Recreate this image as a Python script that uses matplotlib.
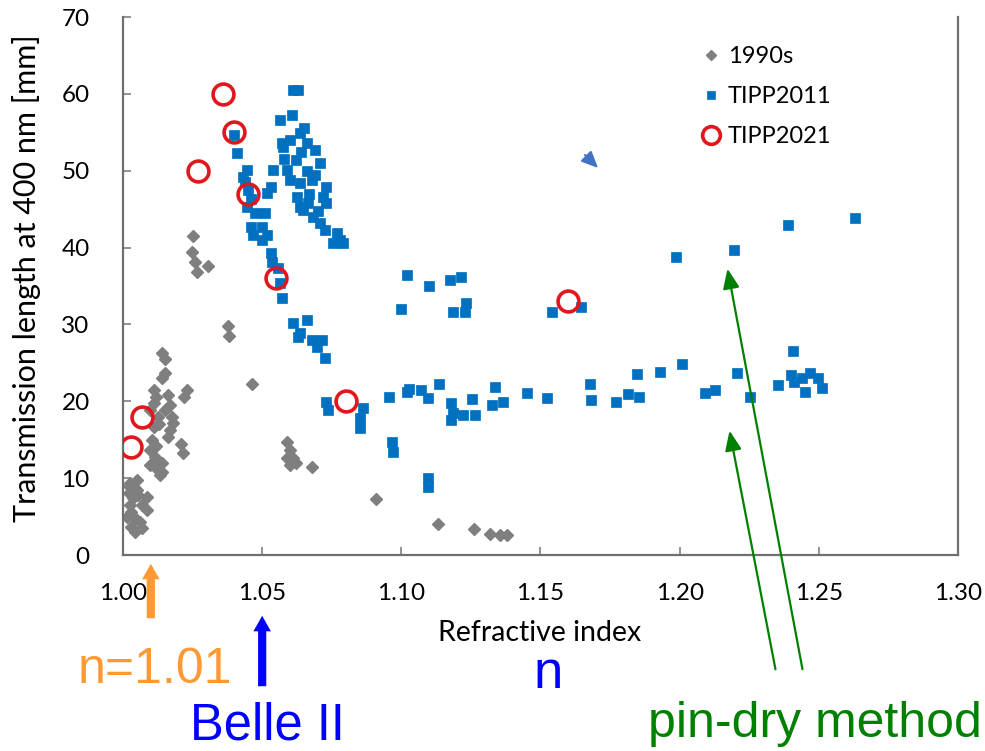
import matplotlib
matplotlib.use("Agg")
import matplotlib.pyplot as plt

# ---------------- data ----------------
gray_x = [1.005, 1.0025, 1.005, 1.002, 1.0036, 1.0086, 1.0025, 1.007, 1.003, 1.0086,
          1.0043, 1.006, 1.003, 1.0068, 1.0043, 1.002, 1.004, 1.0015, 1.0055,
          1.014, 1.015, 1.015, 1.014, 1.011, 1.012, 1.016, 1.023, 1.022, 1.017,
          1.015, 1.0176, 1.0097, 1.0126, 1.011, 1.017, 1.0104, 1.016, 1.021, 1.0216,
          1.0097, 1.0115, 1.0097, 1.012, 1.014, 1.0133, 1.011, 1.013, 1.012, 1.014, 1.018,
          1.025, 1.0248, 1.026, 1.0266, 1.0305, 1.0377, 1.038, 1.0464, 1.059, 1.060,
          1.059, 1.061, 1.060, 1.062, 1.068, 1.091, 1.113, 1.126, 1.132, 1.1355, 1.138]
gray_y = [9.8, 9.4, 8.5, 8.1, 7.4, 7.5, 6.5, 6.5, 5.6, 5.9,
          4.8, 4.3, 3.6, 3.5, 3.0, 9.0, 8.8, 5.0, 7.8,
          26.3, 25.5, 23.7, 23.0, 21.5, 20.6, 20.8, 21.5, 20.6, 19.5,
          18.9, 18.0, 18.9, 18.0, 16.7, 16.3, 15.0, 15.4, 14.5, 13.3,
          13.7, 12.8, 11.7, 11.3, 10.8, 10.4, 19.8, 17.0, 14.2, 12.0, 17.2,
          41.5, 39.4, 38.1, 36.8, 37.6, 29.8, 28.5, 22.2, 14.7, 13.7,
          12.6, 12.6, 11.7, 12.0, 11.4, 7.3, 4.0, 3.4, 2.7, 2.6, 2.6]

blue_x = [1.040, 1.041, 1.0446, 1.043, 1.045, 1.0446, 1.0474, 1.051, 1.046, 1.050,
          1.0467, 1.050, 1.0517, 1.053, 1.0535, 1.0557, 1.0564, 1.057, 1.054, 1.053,
          1.0517, 1.044, 1.046,
          1.061, 1.063, 1.0564, 1.0607, 1.0575, 1.0636, 1.066, 1.069, 1.059, 1.062,
          1.0708, 1.060, 1.0636, 1.068, 1.073, 1.0625, 1.0665, 1.072, 1.073, 1.0683,
          1.0708, 1.0726, 1.077, 1.078, 1.0755, 1.079, 1.0636, 1.0647, 1.057, 1.060,
          1.065, 1.066, 1.069, 1.067, 1.070, 1.064, 1.058,
          1.061, 1.0636, 1.066, 1.068, 1.0715, 1.0726, 1.063, 1.0697,
          1.073, 1.0737, 1.0862, 1.085, 1.085, 1.0956, 1.102, 1.1028, 1.107, 1.1096,
          1.1136, 1.118, 1.1187, 1.118, 1.122, 1.1254, 1.1265, 1.1337, 1.1326, 1.1365,
          1.145, 1.1523, 1.0967, 1.097, 1.1096, 1.1096,
          1.102, 1.110, 1.1175, 1.1215, 1.100, 1.1186, 1.1232, 1.123, 1.154, 1.1646,
          1.1987, 1.2195, 1.239, 1.263, 1.1678, 1.168, 1.177, 1.1815, 1.1855, 1.1847,
          1.193, 1.201, 1.209, 1.2127, 1.2206, 1.2253, 1.2407, 1.2354, 1.240, 1.241,
          1.245, 1.247, 1.2497, 1.251, 1.244]
blue_y = [54.6, 52.3, 50.1, 49.2, 47.5, 45.3, 44.5, 44.5, 42.7, 42.7,
          41.6, 41.0, 41.6, 39.3, 38.1, 37.3, 35.4, 33.5, 50.1, 47.9,
          47.1, 48.5, 46.3,
          60.5, 60.5, 56.6, 57.2, 53.1, 54.9, 53.6, 52.7, 50.1, 51.4,
          51.0, 48.8, 48.4, 48.8, 47.9, 46.6, 45.8, 46.6, 45.8, 44.0,
          43.2, 42.3, 41.9, 41.0, 40.6, 40.6, 45.3, 44.9, 53.6, 54.0,
          55.5, 50.0, 49.5, 47.0, 44.8, 52.5, 51.5,
          30.2, 28.9, 30.6, 28.0, 28.0, 25.6, 28.4, 27.0,
          19.9, 18.9, 19.1, 17.8, 16.5, 20.5, 21.2, 21.6, 21.5, 20.4,
          22.2, 19.8, 18.5, 17.6, 18.2, 20.3, 18.2, 21.8, 19.5, 19.9,
          21.1, 20.4, 14.7, 13.4, 10.0, 8.8,
          36.4, 35.0, 35.8, 36.2, 32.0, 31.6, 32.8, 31.6, 31.6, 32.3,
          38.8, 39.7, 43.0, 43.8, 22.2, 20.2, 19.9, 21.0, 20.5, 23.5,
          23.8, 24.8, 21.1, 21.5, 23.7, 20.5, 26.5, 22.1, 23.4, 22.5,
          21.2, 23.7, 23.0, 21.7, 23.0]

red_x = [1.003, 1.007, 1.027, 1.036, 1.040, 1.045, 1.055, 1.080, 1.160]
red_y = [14.0, 18.0, 50.0, 60.0, 55.0, 47.0, 36.0, 20.0, 33.0]

series_labels = ["1990s", "TIPP2011", "TIPP2021"]
x_ticks = [1.00, 1.05, 1.10, 1.15, 1.20, 1.25, 1.30]
y_ticks = [0, 10, 20, 30, 40, 50, 60, 70]

# ---------------- figure ----------------
W, H = 985, 751
fig = plt.figure(figsize=(W / 100, H / 100), dpi=100)
ax = fig.add_axes([123 / W, 1 - 555 / H, (958 - 123) / W, (555 - 17) / H])

axis_font = "Lato"
ax.plot(gray_x, gray_y, linestyle="none", marker="D", ms=6.0, color="#7f7f7f",
        mec="#7f7f7f", label=series_labels[0], zorder=2)
ax.plot(blue_x, blue_y, linestyle="none", marker="s", ms=7.6, color="#0070C0",
        mec="#0070C0", mew=0.5, label=series_labels[1], zorder=3)
ax.plot(red_x, red_y, linestyle="none", marker="o", ms=15, mfc="none",
        mec="#E3161E", mew=2.6, label=series_labels[2], zorder=4)

ax.set_xlim(1.00, 1.30)
ax.set_ylim(0, 70)
ax.set_xticks(x_ticks)
ax.set_xticklabels([f"{v:.2f}" for v in x_ticks], fontfamily=axis_font, fontsize=17.5)
ax.set_yticks(y_ticks)
ax.set_yticklabels([str(v) for v in y_ticks], fontfamily=axis_font, fontsize=17.5)
ax.tick_params(direction="in", length=6, width=1.2, color="#808080")
ax.tick_params(axis="x", pad=20)
ax.tick_params(axis="y", pad=24)
for side in ["left", "bottom", "right"]:
    ax.spines[side].set_color("#6f6f6f")
    ax.spines[side].set_linewidth(1.6)
ax.spines["top"].set_visible(False)

ax.set_xlabel("Refractive index", fontfamily=axis_font, fontsize=20.5)
ax.set_ylabel("Transmission length at 400 nm [mm]", fontfamily=axis_font,
              fontsize=22)
ax.xaxis.set_label_coords((540 - 123) / (958 - 123), -(633 - 555) / (555 - 17))
ax.xaxis.label.set_va("center")
ax.yaxis.set_label_coords(-(123 - 27) / (958 - 123), (555 - 278) / (555 - 17))
ax.yaxis.label.set_va("center")

leg = ax.legend(loc="upper left", bbox_to_anchor=(0.668, 0.985), frameon=False,
                prop={"family": axis_font, "size": 17}, labelspacing=0.8,
                handlelength=0.8, handletextpad=0.3, markerscale=0.85)

# ---------------- annotations ----------------
def fy(py):
    return 1 - py / H

def fx(px):
    return px / W

# small blue arrow in the plot
ax.annotate("", xy=(fx(600), fy(170)), xytext=(fx(583), fy(153)),
            xycoords="figure fraction", textcoords="figure fraction",
            arrowprops=dict(arrowstyle="-|>,head_length=1.0,head_width=0.45",
                            color="#4472C4", lw=1.5))

fat = "simple,head_length=0.8,head_width=0.9,tail_width=0.42"
# orange arrow at n = 1.01
ax.annotate("", xy=(1.01, fy(561)), xytext=(1.01, fy(621)),
            xycoords=("data", "figure fraction"), textcoords=("data", "figure fraction"),
            arrowprops=dict(arrowstyle=fat, mutation_scale=14,
                            color="#FF9933", lw=0), annotation_clip=False)
fig.text(fx(155), fy(683), "n=1.01", color="#FF9933", fontsize=36,
         family="Liberation Sans", ha="center", va="baseline")

# blue arrow at Belle II n = 1.05
ax.annotate("", xy=(1.05, fy(613)), xytext=(1.05, fy(689)),
            xycoords=("data", "figure fraction"), textcoords=("data", "figure fraction"),
            arrowprops=dict(arrowstyle=fat, mutation_scale=14,
                            color="#0000FF", lw=0), annotation_clip=False)
fig.text(fx(267), fy(739), "Belle II", color="#0000FF", fontsize=36.5,
         family="Liberation Sans", ha="center", va="baseline")

fig.text(fx(548), fy(688), "n", color="#0000FF", fontsize=38,
         family="Liberation Sans", ha="center", va="baseline")

# green arrows (pin-dry method)
for tail, tip in [((803, 672), (727, 266)), ((776, 672), (729, 428))]:
    ax.annotate("", xy=(fx(tip[0]), fy(tip[1])), xytext=(fx(tail[0]), fy(tail[1])),
                xycoords="figure fraction", textcoords="figure fraction",
                arrowprops=dict(arrowstyle="-|>,head_length=1.2,head_width=0.5",
                                color="#008000", lw=1.6), annotation_clip=False)
fig.text(fx(648), fy(737), "pin-dry method", color="#008000", fontsize=36,
         family="Liberation Sans", ha="left", va="baseline")

fig.savefig("out.png", dpi=100)
